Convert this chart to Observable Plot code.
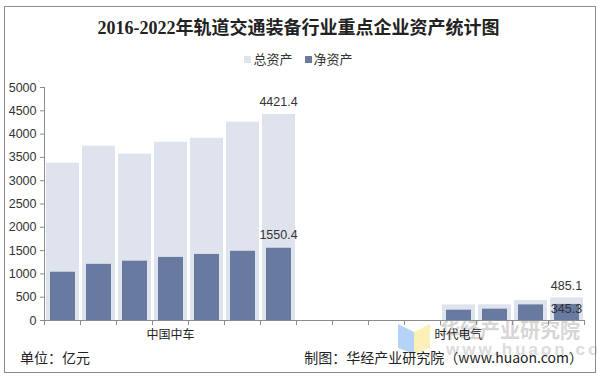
<!DOCTYPE html>
<html>
<head>
<meta charset="utf-8">
<script src="https://cdn.jsdelivr.net/npm/d3@7"></script>
<script src="https://cdn.jsdelivr.net/npm/@observablehq/plot@0.6"></script>
<style>
  html, body { margin: 0; padding: 0; background: #fff; }
  #wrap { position: relative; width: 597px; height: 376px; overflow: hidden; background: #fff; }
  .abs { position: absolute; }
  #frame { left: 4px; top: 6px; width: 590px; height: 365px; border: 1px solid #8c8c8c; }
  #title { left: 0; width: 597px; top: 16px; text-align: center; font: bold 18px/24px "Liberation Serif", "Noto Sans CJK SC", serif; color: #222; }
  #legend { left: 0; width: 597px; top: 50px; text-align: center; font: 13px/18px "Noto Sans CJK SC", sans-serif; color: #333; }
  #legend .sw { display: inline-block; width: 7px; height: 7px; margin-right: 2px; vertical-align: 1px; }
  #legend .item { margin: 0 6px; }
  .foot { top: 347px; font: 14px/20px "Noto Sans CJK SC", sans-serif; color: #222; }
  #wm1 { left: 440px; top: 317px; font: bold 20px/26px "Noto Sans CJK SC", sans-serif; color: #d6d6d6; letter-spacing: 0px; }
  #wm2 { left: 446px; top: 340px; font: bold 17px/20px "Liberation Sans", sans-serif; color: #dcdcdc; letter-spacing: 3px; }
  #chart { left: 0; top: 0; }
</style>
</head>
<body>
<div id="wrap">
  <svg class="abs" style="left:396px;top:320px" width="36" height="36">
    <polygon points="2,4 18,12 18,34 2,28" fill="#b5d3f7"/>
    <polygon points="18,12 34,4 34,28 18,34" fill="#fbf0b8"/>
  </svg>
  <div id="wm1" class="abs">华经产业研究院</div>
  <div id="wm2" class="abs">www.huaon.com</div>
  <div id="chart" class="abs"></div>
  <div id="frame" class="abs"></div>
  <div id="title" class="abs">2016-2022年轨道交通装备行业重点企业资产统计图</div>
  <div id="legend" class="abs"></div>
  <div class="abs foot" style="left:20px">单位：亿元</div>
  <div class="abs foot" style="right:14px">制图：华经产业研究院（www.huaon.com）</div>
</div>
<script>
// ---- data ----
const groups = ["中国中车", "时代电气"];
const years = ["2016", "2017", "2018", "2019", "2020", "2021", "2022"];
const seriesNames = ["总资产", "净资产"];
const crrcTotal = [3375, 3740, 3570, 3825, 3910, 4255, 4421.4];
const crrcNet = [1036, 1205, 1273, 1354, 1418, 1485, 1550.4];
const teTotal = [null, null, null, 335, 338, 430, 485.1];
const teNet = [null, null, null, 221, 243, 335, 345.3];
const yTicks = [0, 500, 1000, 1500, 2000, 2500, 3000, 3500, 4000, 4500, 5000];

const LIGHT = "#dfe3ed";
const DARK = "#687a9f";

const totals = [crrcTotal, teTotal];
const nets = [crrcNet, teNet];
const per = years.length + 1;
const rows = [];
groups.forEach((g, gi) => years.forEach((y, yi) => rows.push({
  group: g, gi, year: y, yi, slot: gi * per + yi, total: totals[gi][yi], net: nets[gi][yi]
})));
const nSlots = groups.length * per - 1;
const last = years.length - 1;

// legend
document.getElementById("legend").innerHTML = seriesNames.map((s, i) =>
  `<span class="item"><span class="sw" style="background:${i ? DARK : LIGHT}"></span>${s}</span>`).join("");

const textFont = "Liberation Sans, Arial, sans-serif";
const chart = Plot.plot({
  width: 597,
  height: 376,
  marginLeft: 44,
  marginRight: 13,
  marginTop: 87,
  marginBottom: 56,
  style: { background: "transparent", fontFamily: textFont },
  x: { type: "linear", domain: [0, nSlots] },
  y: { domain: [0, 5000] },
  marks: [
    Plot.rectY(rows.filter(d => d.total != null), {
      x1: "slot", x2: d => d.slot + 1, y: "total", fill: LIGHT, insetLeft: 2, insetRight: 1
    }),
    Plot.rectY(rows.filter(d => d.net != null), {
      x1: "slot", x2: d => d.slot + 1, y: "net", fill: DARK, insetLeft: 6, insetRight: 5
    }),
    Plot.ruleY([0], { stroke: "#8c8c8c" }),
    Plot.ruleX([0], { stroke: "#8c8c8c" }),
    Plot.axisY({
      ticks: yTicks, tickSize: 4, tickPadding: 4, stroke: "#8c8c8c", fill: "#333",
      fontSize: 12.5, label: null, tickFormat: d => String(d)
    }),
    Plot.axisX({
      ticks: d3.range(nSlots + 1), tickSize: 5, stroke: "#8c8c8c", tickFormat: () => "", label: null
    }),
    Plot.text(rows.filter(d => d.yi === last), {
      x: d => d.slot + 0.5, y: "total", text: d => d3.format(".1f")(d.total),
      dy: -12, fill: "#333", fontSize: 12.5
    }),
    Plot.text(rows.filter(d => d.yi === last && d.gi === 0), {
      x: d => d.slot + 0.5, y: "net", text: d => d3.format(".1f")(d.net),
      dy: -13, fill: "#333", fontSize: 12.5
    }),
    Plot.text(rows.filter(d => d.yi === last && d.gi === 1), {
      x: d => d.slot + 0.5, y: "net", text: d => d3.format(".1f")(d.net),
      dy: 5, fill: "#333", fontSize: 12.5
    }),
    Plot.text(groups, {
      x: (d, i) => i * per + years.length / 2, frameAnchor: "bottom", dy: 18,
      text: d => d, fill: "#222", fontSize: 12, fontFamily: "Noto Sans CJK SC"
    })
  ]
});
document.getElementById("chart").appendChild(chart);
</script>
</body>
</html>
